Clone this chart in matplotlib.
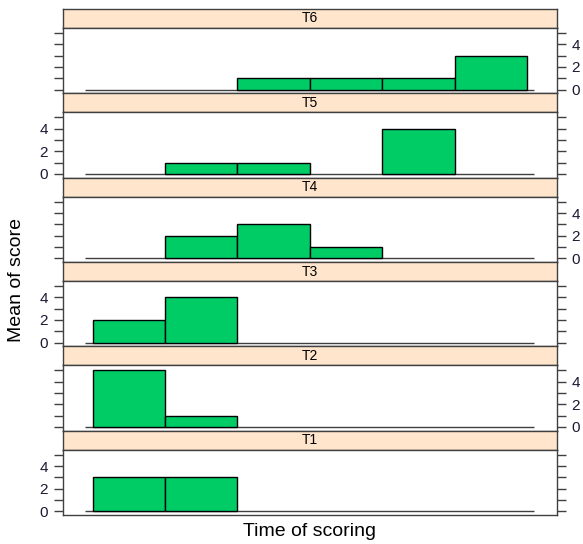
import matplotlib.pyplot as plt
import numpy as np

plt.rcParams['font.family'] = ['Liberation Sans', 'DejaVu Sans']

# panels from top to bottom
panels = ['T6', 'T5', 'T4', 'T3', 'T2', 'T1']
times = [1, 2, 3, 4, 5, 6]
scores = {
    'T6': [0, 0, 1, 1, 1, 3],
    'T5': [0, 1, 1, 0, 4, 0],
    'T4': [0, 2, 3, 1, 0, 0],
    'T3': [2, 4, 0, 0, 0, 0],
    'T2': [5, 1, 0, 0, 0, 0],
    'T1': [3, 3, 0, 0, 0, 0],
}

W, H = 583, 544
fig = plt.figure(figsize=(W / 100, H / 100), dpi=100)

left, right = 62.7, 557.0
top, bottom = 9.0, 515.0
block = (bottom - top) / len(panels)
strip_h = 19.0
edge = '#404040'

for i, name in enumerate(panels):
    y0 = top + i * block
    # strip
    sax = fig.add_axes([left / W, 1 - (y0 + strip_h) / H,
                        (right - left) / W, strip_h / H])
    sax.set_facecolor('#ffe5cc')
    sax.set_xticks([])
    sax.set_yticks([])
    for s in sax.spines.values():
        s.set_color(edge)
        s.set_linewidth(1.0)
    sax.text(0.5, 0.5, name, ha='center', va='center', fontsize=10,
             transform=sax.transAxes)

    # panel
    ax = fig.add_axes([left / W, 1 - (y0 + block) / H,
                       (right - left) / W, (block - strip_h) / H])
    vals = [v if v > 0 else np.nan for v in scores[name]]
    ax.hlines(0, 0.4, 6.6, color=edge, lw=1.0, zorder=1)
    ax.bar(times, vals, width=1.0, color='#00cc66', edgecolor='black',
           linewidth=1.0, zorder=2)
    ax.set_xlim(0.085, 6.915)
    ax.set_ylim(-0.33, 5.45)
    ax.set_xticks([])
    ax.set_yticks(range(6))
    labels_right = (i % 2 == 0)
    ax.tick_params(axis='y', which='both', direction='out', length=6.5,
                   width=1.0, color=edge, left=True, right=True,
                   labelleft=not labels_right, labelright=labels_right,
                   labelsize=11, pad=4, labelcolor='#1a1a33')
    ax.set_yticklabels(['0', '', '2', '', '4', ''])
    for s in ax.spines.values():
        s.set_color(edge)
        s.set_linewidth(1.0)

fig.text(17 / W, 1 - 280 / H, 'Mean of score', rotation=90,
         ha='center', va='center', fontsize=14)
fig.text((left + right) / 2 / W, 1 - 531 / H, 'Time of scoring',
         ha='center', va='center', fontsize=14)

fig.savefig('out.png', dpi=100)
